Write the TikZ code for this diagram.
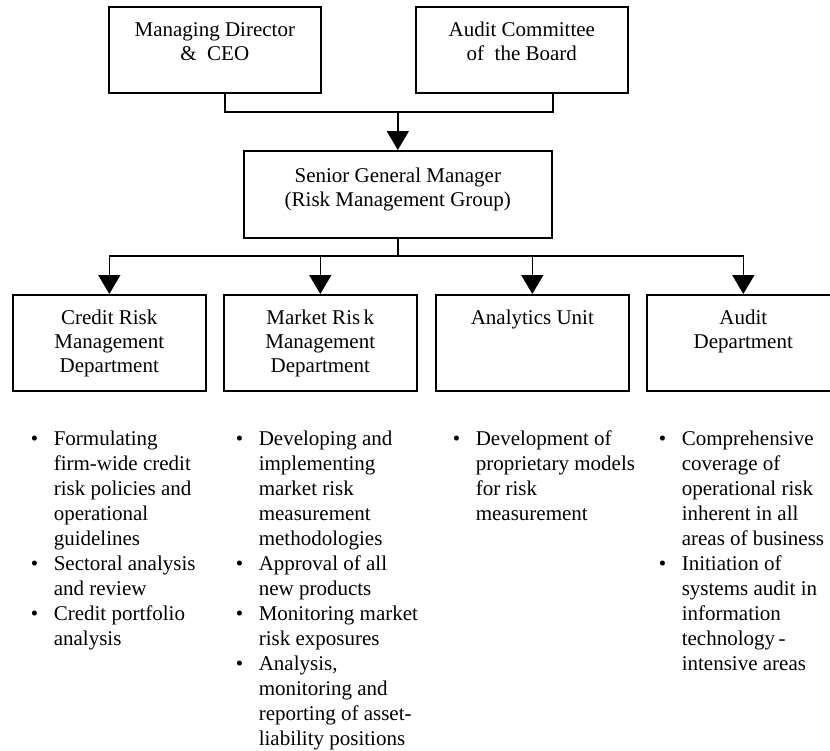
\documentclass[tikz,border=0pt]{standalone}
\usepackage{fontspec}
\setmainfont{Liberation Serif}
\usetikzlibrary{arrows.meta}

\newcommand{\blist}[1]{\begin{tabular}[t]{@{}p{23pt}@{}l@{}}#1\end{tabular}}
\newcommand{\btext}[1]{\begin{tabular}[t]{@{}c@{}}#1\end{tabular}}

\begin{document}
\begin{tikzpicture}[x=1pt,y=-1pt,line width=1.6pt,
	every node/.style={font=\fontsize{21}{24}\selectfont},
	topbox/.style={draw,anchor=north west,inner sep=0pt,minimum width=212pt,minimum height=86pt},
	midbox/.style={draw,anchor=north west,inner sep=0pt,minimum width=308pt,minimum height=87pt},
	deptbox/.style={draw,anchor=north west,inner sep=0pt,minimum width=193pt,minimum height=96pt},
	boxtext/.style={anchor=base,inner sep=0pt},
	duties/.style={anchor=base west,inner sep=0pt,font=\fontsize{21}{25}\selectfont},
	arr/.style={-{Triangle[width=22pt,length=19pt]}}]
\useasboundingbox (0,0) rectangle (830,750);

%boxes
\node[topbox] (md) at (108,6) {};
\node[topbox] (acb) at (415,6) {};
\node[midbox] (sgm) at (243,150) {};
\foreach \n/\x in {crmd/12,mrmd/223,au/435,ad/646}
	\node[deptbox] (\n) at (\x,294) {};

%box texts
\node[boxtext] (mdt) at ([yshift=-30pt]md.north) {\btext{Managing Director\\\&\ \ CEO}};
\node[boxtext] (acbt) at ([yshift=-30pt]acb.north) {\btext{Audit Committee\\of\ \ the Board}};
\node[boxtext] (sgmt) at ([yshift=-32pt]sgm.north) {\btext{Senior General Manager\\(Risk Management Group)}};
\node[boxtext] (crmdt) at ([yshift=-30pt]crmd.north) {\btext{Credit Risk\\Management\\Department}};
\node[boxtext] (mrmdt) at ([yshift=-30pt]mrmd.north) {\btext{Market Ris\,k\\Management\\Department}};
\node[boxtext] (aut) at ([yshift=-30pt]au.north) {\btext{Analytics Unit}};
\node[boxtext] (adt) at ([yshift=-30pt]ad.north) {\btext{Audit\\Department}};

%edges
\coordinate (join) at (sgm.north |- 0,112);
\coordinate (bus) at (sgm.south |- 0,256);
\draw ([xshift=10pt]md.south) |- (join);
\draw ([xshift=31pt]acb.south) |- (join);
\draw[arr] (join) -- (sgm.north);
\draw (sgm.south) -- (bus);
\foreach \n in {crmd,mrmd,au,ad}
	\draw[arr] (bus) -| (\n.north);

%duties
\node[duties] (crmdl) at (30,445) {\blist{%
	\textbullet & Formulating\\ & firm-wide credit\\ & risk policies and\\ & operational\\ & guidelines\\
	\textbullet & Sectoral analysis\\ & and review\\
	\textbullet & Credit portfolio\\ & analysis}};
\node[duties] (mrmdl) at (235,445) {\blist{%
	\textbullet & Developing and\\ & implementing\\ & market risk\\ & measurement\\ & methodologies\\
	\textbullet & Approval of all\\ & new products\\
	\textbullet & Monitoring market\\ & risk exposures\\
	\textbullet & Analysis,\\ & monitoring and\\ & reporting of asset-\\ & liability positions}};
\node[duties] (aul) at (452,445) {\blist{%
	\textbullet & Development of\\ & proprietary models\\ & for risk\\ & measurement}};
\node[duties] (adl) at (658,445) {\blist{%
	\textbullet & Comprehensive\\ & coverage of\\ & operational risk\\ & inherent in all\\ & areas of business\\
	\textbullet & Initiation of\\ & systems audit in\\ & information\\ & technology\,-\\ & intensive areas}};
\end{tikzpicture}
\end{document}
